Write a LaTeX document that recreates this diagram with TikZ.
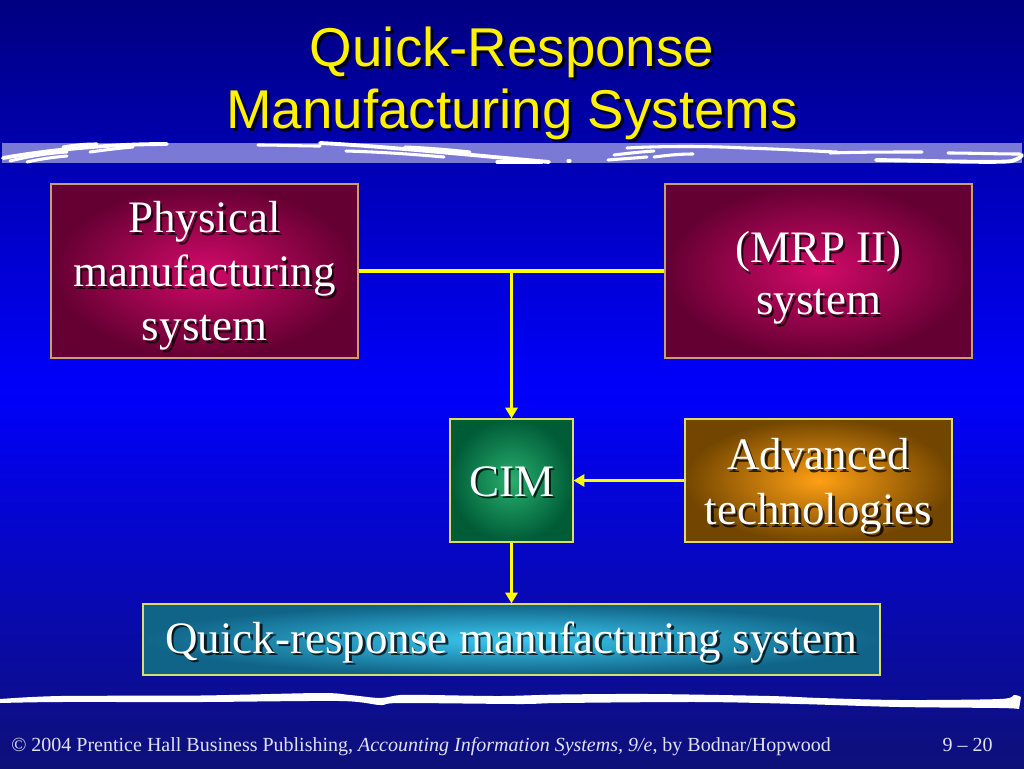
\documentclass[tikz,border=0pt]{standalone}
\usepackage{fontspec}
\setmainfont{Liberation Serif}
\newfontfamily\titlefont{Liberation Sans}
\usetikzlibrary{arrows.meta}
\definecolor{bgtop}{RGB}{0,0,128}
\definecolor{bgmid}{RGB}{0,0,252}
\definecolor{bgbot}{RGB}{14,16,120}
\definecolor{bandc}{RGB}{122,122,214}
\definecolor{magin}{RGB}{210,10,105}
\definecolor{magout}{RGB}{100,0,50}
\definecolor{magline}{RGB}{200,160,110}
\definecolor{grin}{RGB}{40,175,110}
\definecolor{grout}{RGB}{0,92,55}
\definecolor{orin}{RGB}{255,160,20}
\definecolor{orout}{RGB}{115,70,0}
\definecolor{tlin}{RGB}{60,200,240}
\definecolor{tlout}{RGB}{16,100,135}
\definecolor{boxline}{RGB}{220,220,110}
\definecolor{conny}{RGB}{255,255,0}
\definecolor{footc}{RGB}{225,225,240}
\tikzset{
  box/.style={draw, line width=0.9pt, inner sep=0pt, shade},
  magbox/.style={box, draw=magline, inner color=magin, outer color=magout},
  grbox/.style={box, draw=boxline, inner color=grin, outer color=grout},
  orbox/.style={box, draw=boxline, inner color=orin, outer color=orout},
  tlbox/.style={box, draw=boxline, inner color=tlin, outer color=tlout},
  txtmain/.style={text=white, align=center, inner sep=0pt},
  txtshadow/.style={text=black, opacity=0.75, align=center, inner sep=0pt},
  conn/.style={draw=conny, line width=2.3pt},
  arr/.style={conn, -{Triangle[width=9pt,length=8pt]}},
  swoosh/.style={draw=white, line width=2.3pt, line cap=round},
  titletext/.style={anchor=base, inner sep=0pt, font=\titlefont\fontsize{41pt}{49pt}\selectfont},
  foottext/.style={inner sep=0pt, text=footc, font=\fontsize{15pt}{18pt}\selectfont}
}
% name, y offset (px), font, text
\newcommand\boxtext[4]{%
  \node[txtshadow, font=#3] (#1s) at ([shift={(2.5,#2+2.5)}]#1.center) {#4};
  \node[txtmain, font=#3] (#1t) at ([shift={(0,#2)}]#1.center) {#4};}
\begin{document}
\begin{tikzpicture}[x=0.75pt, y=-0.75pt]
\useasboundingbox (0,0) rectangle (1024,768);
\shade[top color=bgtop, bottom color=bgmid] (0,0) rectangle (1024,391);
\shade[top color=bgmid, bottom color=bgbot] (0,390) rectangle (1024,768);
% title
\node[titletext, text=black, opacity=0.8] (t1s) at (515,69) {Quick-Response};
\node[titletext, text=yellow] (t1) at (512,66) {Quick-Response};
\node[titletext, text=black, opacity=0.8] (t2s) at (515,131) {Manufacturing Systems};
\node[titletext, text=yellow] (t2) at (512,128) {Manufacturing Systems};
% band
\fill[bandc] (2,143) rectangle (1022,163);
\draw[swoosh, line width=2.9pt] (3,158) .. controls (60,148) and (120,144) .. (167,144);
\draw[swoosh] (10,161) .. controls (30,156) and (50,153) .. (67,152);
\draw[swoosh] (27,162) .. controls (40,159) and (55,157) .. (67,156);
\draw[swoosh] (90,152) .. controls (105,150) and (120,148) .. (133,147);
\draw[swoosh] (63,147) .. controls (75,145) and (85,144) .. (97,144);
\draw[swoosh] (258,145) .. controls (280,145) and (300,146) .. (320,146);
\draw[swoosh, line width=2.9pt] (320,143) .. controls (380,146) and (460,154) .. (549,162);
\draw[swoosh] (346,151) .. controls (380,152) and (410,154) .. (444,157);
\draw[swoosh] (405,147) .. controls (430,148) and (450,150) .. (470,152);
\draw[swoosh] (497,162) -- (542,162);
\draw[swoosh] (568,161) -- (570,161);
\draw[swoosh] (608,160) .. controls (620,159) and (635,158) .. (647,157);
\draw[swoosh] (614,155) .. controls (630,153) and (640,152) .. (654,151);
\draw[swoosh] (627,148) .. controls (660,146) and (710,146) .. (745,148);
\draw[swoosh] (654,157) .. controls (670,155) and (680,154) .. (693,154);
\draw[swoosh] (745,148) .. controls (780,149) and (810,151) .. (837,152);
\draw[swoosh] (830,153) .. controls (860,152) and (890,152) .. (922,152);
\draw[swoosh, line width=2.9pt] (876,160) .. controls (940,161) and (1000,163) .. (1012,161) .. controls (1018,159) and (1021,157) .. (1022,155);
\draw[swoosh] (948,153) .. controls (970,153) and (995,154) .. (1020,154);
% boxes
\node[magbox, minimum width=230.25pt, minimum height=130.5pt] (phys) at (204.5,271) {};
\node[magbox, minimum width=230.25pt, minimum height=130.5pt] (mrp) at (818.5,271) {};
\node[grbox, minimum width=92.25pt, minimum height=92.25pt] (cim) at (511.5,480.5) {};
\node[orbox, minimum width=200.25pt, minimum height=92.25pt] (adv) at (818.5,480.5) {};
\node[tlbox, minimum width=552.75pt, minimum height=53.25pt] (qr) at (511.5,639.5) {};
% connectors
\draw[conn] (phys.east) -- (mrp.west);
\coordinate (j) at (cim.north |- phys.east);
\draw[arr] (j) -- (cim.north);
\draw[arr] (adv.west) -- (cim.east);
\draw[arr] (cim.south) -- (qr.north);
% box texts
\boxtext{phys}{5}{\fontsize{33.75pt}{40.5pt}\selectfont}{Physical\\manufacturing\\system}
\boxtext{mrp}{7}{\fontsize{33.75pt}{39pt}\selectfont}{(MRP II)\\system}
\boxtext{cim}{1}{\fontsize{33.75pt}{40.5pt}\selectfont}{CIM}
\boxtext{adv}{6}{\fontsize{33.75pt}{41.5pt}\selectfont}{Advanced\\technologies}
\boxtext{qr}{3}{\fontsize{33.75pt}{40.5pt}\selectfont}{Quick-response manufacturing system}
% bottom wave
\fill[white] plot[smooth] coordinates {(0,699) (60,696) (200,695.5) (320,693) (350,695) (380,698) (400,695) (430,695) (500,696) (560,694.5) (650,694) (770,696) (820,698) (900,700) (1000,699) (1014,695) (1021,697)}
  -- plot[smooth] coordinates {(1019,709) (1000,708) (900,707) (800,704) (700,702) (560,703) (520,704) (400,703) (380,705) (340,701) (200,702) (60,702) (0,703)} -- cycle;
% footer
\node[foottext, anchor=base west] (foot) at (11,751) {© 2004 Prentice Hall Business Publishing, \textit{Accounting Information Systems, 9/e}, by Bodnar/Hopwood};
\node[foottext, anchor=base east] (pg) at (993,751) {9 – 20};
\end{tikzpicture}
\end{document}
